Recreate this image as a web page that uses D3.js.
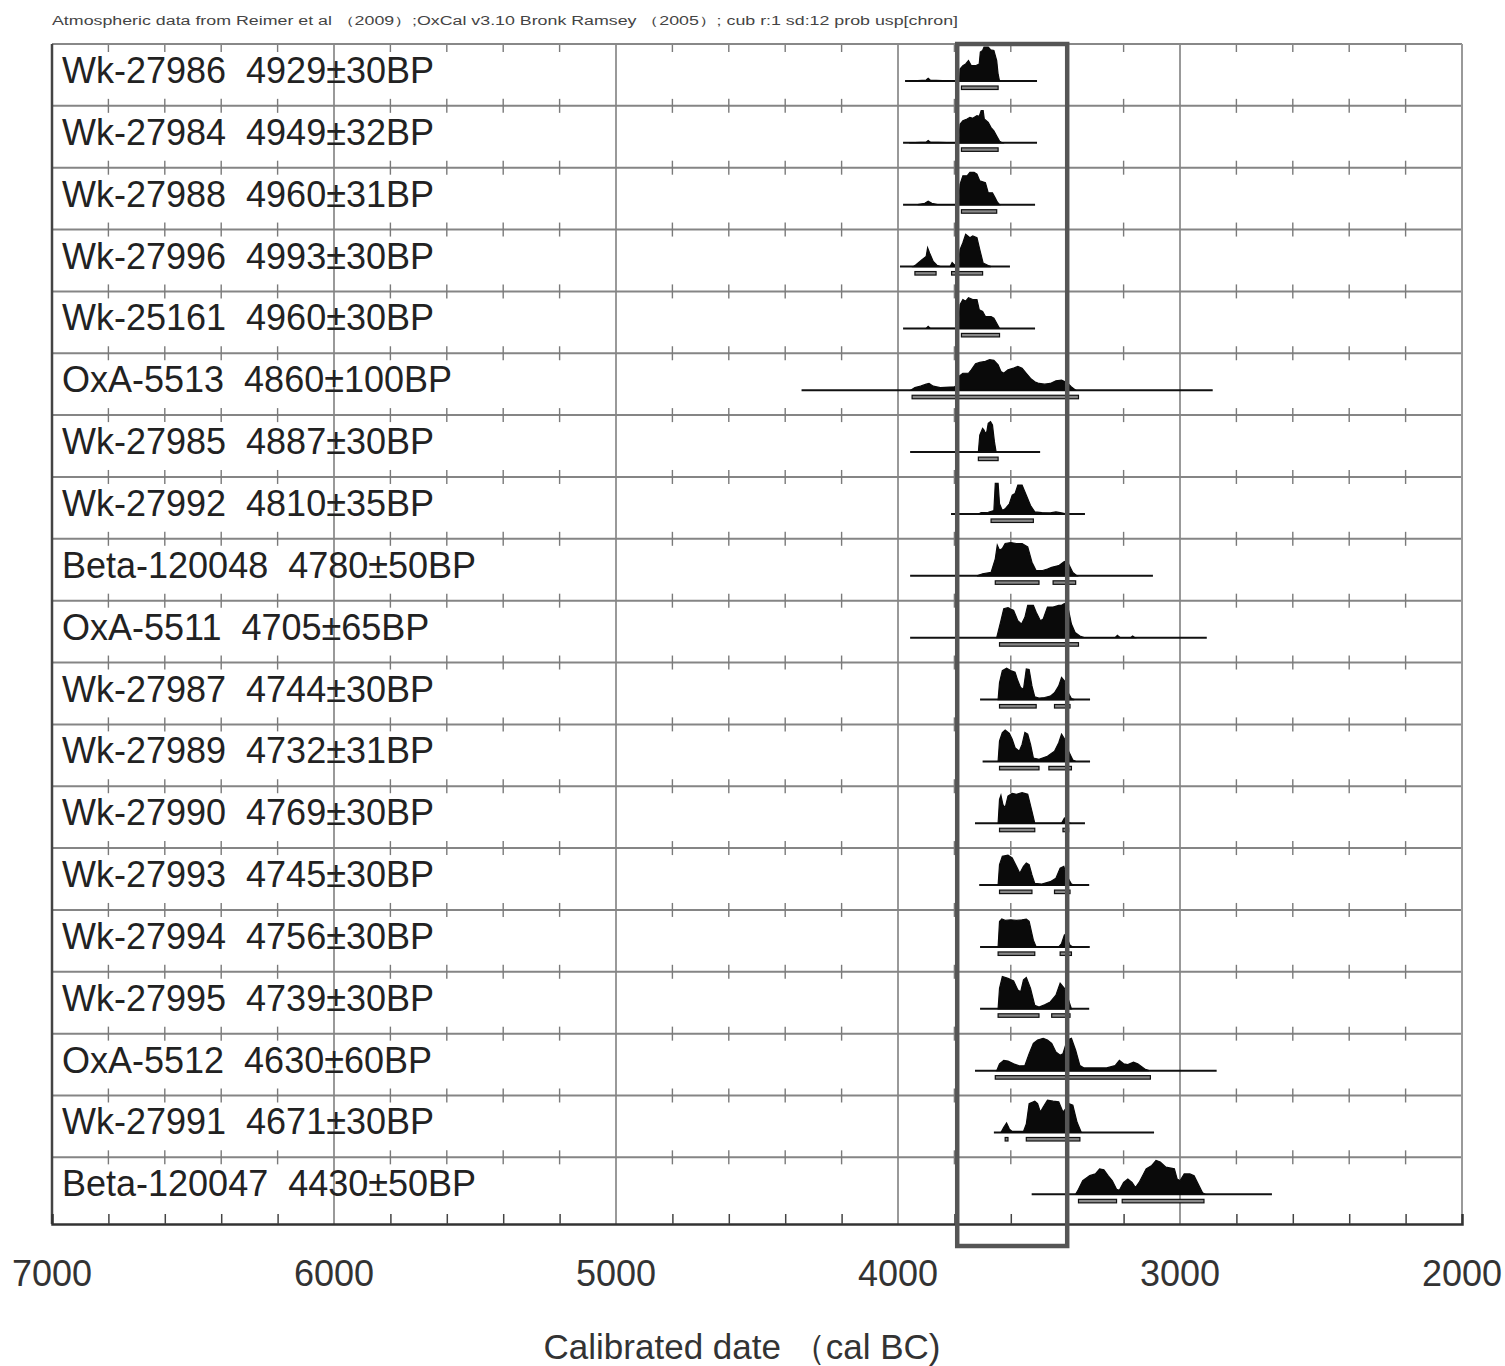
<!DOCTYPE html>
<html>
<head>
<meta charset="utf-8">
<script src="https://cdn.jsdelivr.net/npm/d3@7"></script>
<style>
body { margin: 0; background: #fff; }
svg text { font-family: Arial, "Liberation Sans", sans-serif; }
</style>
</head>
<body>
<svg id="chart" width="1505" height="1366"></svg>
<script>
var svg = d3.select("#chart");

var header = "Atmospheric data from Reimer et al （2009）;OxCal v3.10 Bronk Ramsey （2005）; cub r:1 sd:12 prob usp[chron]";
var axisTitle = "Calibrated date （cal BC)";

var labels = [
	"Wk-27986  4929±30BP", "Wk-27984  4949±32BP", "Wk-27988  4960±31BP",
	"Wk-27996  4993±30BP", "Wk-25161  4960±30BP", "OxA-5513  4860±100BP",
	"Wk-27985  4887±30BP", "Wk-27992  4810±35BP", "Beta-120048  4780±50BP",
	"OxA-5511  4705±65BP", "Wk-27987  4744±30BP", "Wk-27989  4732±31BP",
	"Wk-27990  4769±30BP", "Wk-27993  4745±30BP", "Wk-27994  4756±30BP",
	"Wk-27995  4739±30BP", "OxA-5512  4630±60BP", "Wk-27991  4671±30BP",
	"Beta-120047  4430±50BP"
];

// extent of the thin line under each distribution (cal BC)
var spans = [
	[3975, 3507], [3982, 3507], [3982, 3514], [3993, 3603], [3982, 3514],
	[4342, 2884], [3957, 3496], [3812, 3337], [3957, 3096], [3957, 2905],
	[3709, 3319], [3700, 3319], [3727, 3337], [3712, 3322], [3709, 3320],
	[3709, 3322], [3727, 2870], [3660, 3092], [3526, 2674]
];

// probability outline, [year BC, relative height]
var dens = [
	[[3960,0],[3900,0.03],[3893,0.08],[3886,0.03],[3800,0],[3782,0],[3780,0.35],[3770,0.45],[3760,0.5],[3750,0.6],[3740,0.45],[3725,0.45],[3712,0.5],[3708,0.85],[3700,0.9],[3695,1.0],[3680,1.0],[3672,0.92],[3660,0.9],[3650,0.6],[3645,0.2],[3640,0]],
	[[3960,0],[3900,0.02],[3893,0.07],[3885,0.02],[3800,0],[3785,0],[3780,0.55],[3770,0.65],[3755,0.7],[3745,0.75],[3735,0.72],[3720,0.8],[3712,0.78],[3705,0.95],[3698,0.95],[3694,0.7],[3680,0.6],[3670,0.45],[3660,0.35],[3650,0.2],[3640,0.05],[3630,0]],
	[[3930,0],[3905,0.04],[3893,0.1],[3880,0.04],[3860,0],[3785,0],[3780,0.6],[3770,0.85],[3755,0.85],[3745,0.95],[3730,0.95],[3720,0.9],[3710,0.7],[3690,0.65],[3680,0.35],[3665,0.35],[3655,0.2],[3648,0.08],[3640,0]],
	[[3945,0],[3935,0.06],[3915,0.2],[3900,0.3],[3895,0.55],[3888,0.4],[3875,0.15],[3862,0.04],[3850,0],[3815,0],[3808,0.12],[3800,0.05],[3785,0.05],[3780,0.5],[3770,0.7],[3760,0.95],[3745,0.85],[3735,0.9],[3720,0.85],[3710,0.5],[3698,0.1],[3680,0.03],[3670,0]],
	[[3900,0],[3893,0.06],[3885,0],[3785,0],[3780,0.7],[3770,0.85],[3760,0.8],[3750,0.9],[3735,0.85],[3720,0.85],[3712,0.55],[3700,0.5],[3690,0.35],[3670,0.35],[3660,0.3],[3650,0.15],[3640,0]],
	[[3955,0],[3940,0.08],[3920,0.12],[3900,0.18],[3890,0.2],[3875,0.12],[3850,0.08],[3800,0.1],[3792,0.15],[3785,0.4],[3770,0.5],[3750,0.5],[3740,0.6],[3725,0.78],[3710,0.82],[3690,0.85],[3675,0.9],[3660,0.88],[3645,0.75],[3635,0.55],[3625,0.5],[3610,0.6],[3590,0.65],[3575,0.7],[3560,0.65],[3545,0.5],[3530,0.35],[3515,0.25],[3500,0.2],[3480,0.18],[3460,0.2],[3440,0.28],[3420,0.3],[3400,0.22],[3385,0.1],[3370,0]],
	[[3715,0],[3710,0.5],[3700,0.7],[3695,0.65],[3690,0.55],[3685,0.6],[3680,0.85],[3672,0.9],[3665,0.8],[3658,0.3],[3652,0]],
	[[3715,0],[3705,0.04],[3680,0.05],[3660,0.1],[3655,0.9],[3645,0.9],[3640,0.3],[3630,0.1],[3620,0.15],[3605,0.3],[3595,0.55],[3585,0.6],[3575,0.85],[3560,0.85],[3545,0.55],[3530,0.25],[3515,0.06],[3490,0.04],[3460,0.03],[3440,0.06],[3420,0.03],[3400,0]],
	[[3720,0],[3700,0.06],[3670,0.1],[3655,0.5],[3648,0.9],[3640,0.75],[3630,0.8],[3620,0.95],[3600,0.98],[3580,0.95],[3560,0.95],[3540,0.85],[3525,0.4],[3510,0.15],[3490,0.15],[3470,0.2],[3455,0.25],[3430,0.3],[3410,0.42],[3395,0.35],[3380,0.1],[3365,0]],
	[[3650,0],[3635,0.5],[3625,0.85],[3610,0.88],[3590,0.8],[3575,0.5],[3562,0.4],[3550,0.6],[3540,0.95],[3520,0.95],[3510,0.75],[3495,0.5],[3485,0.55],[3470,0.9],[3450,0.9],[3430,0.95],[3420,0.95],[3410,1.0],[3395,0.8],[3385,0.4],[3372,0.15],[3355,0.05],[3340,0],[3230,0],[3222,0.07],[3212,0],[3175,0],[3168,0.05],[3160,0]],
	[[3645,0],[3640,0.5],[3630,0.85],[3615,0.92],[3600,0.85],[3585,0.8],[3575,0.55],[3565,0.35],[3555,0.3],[3545,0.9],[3535,0.88],[3525,0.4],[3515,0.08],[3500,0.04],[3480,0.06],[3460,0.1],[3445,0.2],[3430,0.4],[3420,0.65],[3410,0.55],[3400,0.25],[3385,0.03],[3375,0]],
	[[3645,0],[3640,0.6],[3630,0.85],[3620,0.92],[3605,0.82],[3595,0.65],[3585,0.4],[3570,0.3],[3560,0.5],[3550,0.85],[3540,0.8],[3530,0.5],[3520,0.1],[3500,0.06],[3470,0.15],[3445,0.3],[3430,0.55],[3420,0.8],[3405,0.6],[3395,0.3],[3380,0.04],[3370,0]],
	[[3645,0],[3640,0.7],[3635,0.82],[3628,0.55],[3620,0.45],[3610,0.8],[3595,0.88],[3580,0.85],[3560,0.9],[3540,0.85],[3525,0.35],[3515,0],[3420,0],[3410,0.15],[3400,0.05],[3390,0]],
	[[3645,0],[3640,0.6],[3630,0.85],[3610,0.88],[3595,0.8],[3580,0.55],[3568,0.35],[3555,0.55],[3545,0.65],[3535,0.6],[3525,0.3],[3515,0.05],[3490,0.03],[3460,0.1],[3440,0.2],[3425,0.5],[3412,0.55],[3400,0.25],[3385,0.03],[3375,0]],
	[[3645,0],[3640,0.75],[3632,0.82],[3620,0.78],[3600,0.8],[3580,0.78],[3560,0.8],[3545,0.82],[3535,0.75],[3520,0.2],[3510,0],[3430,0],[3420,0.1],[3410,0.35],[3400,0.25],[3390,0.05],[3380,0]],
	[[3645,0],[3640,0.6],[3630,0.95],[3610,0.9],[3590,0.82],[3575,0.55],[3565,0.5],[3555,0.85],[3545,0.92],[3530,0.6],[3515,0.1],[3500,0.05],[3480,0.12],[3460,0.2],[3440,0.4],[3425,0.75],[3410,0.6],[3395,0.25],[3385,0]],
	[[3650,0],[3640,0.2],[3625,0.3],[3610,0.28],[3590,0.2],[3570,0.14],[3550,0.15],[3535,0.5],[3520,0.8],[3505,0.9],[3485,0.95],[3470,0.9],[3455,0.8],[3440,0.55],[3425,0.45],[3415,0.5],[3400,0.9],[3385,0.95],[3370,0.6],[3355,0.15],[3340,0.08],[3300,0.08],[3260,0.08],[3230,0.15],[3215,0.3],[3200,0.2],[3185,0.18],[3165,0.25],[3150,0.2],[3125,0.05],[3110,0]],
	[[3635,0],[3625,0.15],[3615,0.28],[3605,0.1],[3595,0.03],[3555,0.03],[3545,0.25],[3535,0.85],[3515,0.92],[3505,0.85],[3495,0.6],[3485,0.75],[3470,0.95],[3450,0.92],[3430,0.9],[3415,0.6],[3405,0.7],[3395,0.85],[3380,0.8],[3365,0.3],[3350,0]],
	[[3370,0],[3360,0.15],[3345,0.4],[3320,0.55],[3300,0.6],[3285,0.75],[3270,0.72],[3255,0.55],[3240,0.4],[3225,0.15],[3215,0.12],[3200,0.35],[3185,0.45],[3170,0.35],[3158,0.2],[3145,0.35],[3120,0.75],[3100,0.85],[3085,1.0],[3070,0.95],[3050,0.8],[3020,0.75],[3010,0.45],[3000,0.4],[2985,0.6],[2965,0.6],[2950,0.55],[2935,0.3],[2920,0.05],[2910,0]]
];

// range brackets drawn under each distribution
var ranges = [
	[[3775,3645]], [[3775,3645]], [[3775,3650]], [[3940,3865],[3810,3700]], [[3775,3640]],
	[[3950,3360]], [[3715,3645]], [[3670,3520]], [[3655,3500],[3450,3370]], [[3640,3360]],
	[[3640,3510],[3445,3390]], [[3640,3500],[3465,3385]], [[3640,3515],[3415,3395]],
	[[3640,3525],[3445,3390]], [[3645,3515],[3425,3385]], [[3645,3500],[3455,3390]],
	[[3655,3105]], [[3620,3610],[3545,3355]], [[3360,3225],[3205,2915]]
];

var tickYears = [7000, 6000, 5000, 4000, 3000, 2000];
var highlight = [3790, 3400];

var plotL = 52, plotR = 1462, plotT = 44, plotB = 1224;
var x = d3.scaleLinear().domain([7000, 2000]).range([plotL, plotR]);
var row = d3.scaleBand().domain(d3.range(labels.length)).range([plotT, 1219.2]);
var hmax = 34;

var minor = x.ticks(25).filter(function(d){ return d % 1000 != 0; });

// vertical grid at 1000 years
svg.append("g").selectAll("line")
	.data(tickYears.slice(1, -1)).enter().append("line")
	.attr("x1", x).attr("x2", x)
	.attr("y1", plotT).attr("y2", plotB)
	.attr("stroke", "#999").attr("stroke-width", 2);

// row separators with small ticks
var seps = d3.range(1, labels.length).map(function(i){ return row(i); });
svg.append("g").selectAll("line")
	.data(seps).enter().append("line")
	.attr("x1", plotL).attr("x2", plotR)
	.attr("y1", function(d){ return d; }).attr("y2", function(d){ return d; })
	.attr("stroke", "#858585").attr("stroke-width", 2);

var tg = svg.append("g").attr("stroke", "#7a7a7a").attr("stroke-width", 1.4);
seps.forEach(function(yy){
	tg.append("g").selectAll("line").data(minor).enter().append("line")
		.attr("x1", x).attr("x2", x)
		.attr("y1", yy - 7).attr("y2", yy + 7);
});
tg.append("g").selectAll("line").data(minor).enter().append("line")
	.attr("x1", x).attr("x2", x).attr("y1", plotT).attr("y2", plotT + 8);

// frame
svg.append("line").attr("x1", plotL).attr("x2", plotR).attr("y1", plotT).attr("y2", plotT)
	.attr("stroke", "#888").attr("stroke-width", 2);
svg.append("line").attr("x1", plotR).attr("x2", plotR).attr("y1", plotT).attr("y2", plotB)
	.attr("stroke", "#999").attr("stroke-width", 2);
svg.append("line").attr("x1", plotL).attr("x2", plotL).attr("y1", plotT).attr("y2", plotB)
	.attr("stroke", "#444").attr("stroke-width", 2.5);

// bottom axis
var axis = svg.append("g").attr("transform", "translate(0," + plotB + ")")
	.call(d3.axisBottom(x).tickValues(minor).tickSize(-10).tickFormat(""));
axis.select(".domain").attr("stroke", "#333").attr("stroke-width", 2.5);
axis.selectAll(".tick line").attr("stroke", "#444").attr("stroke-width", 1.5);

svg.append("g").selectAll("text")
	.data(tickYears).enter().append("text")
	.attr("x", x).attr("y", 1286)
	.attr("text-anchor", "middle")
	.attr("font-size", 36).attr("fill", "#333")
	.text(function(d){ return d; });

svg.append("text").attr("x", 742).attr("y", 1359)
	.attr("text-anchor", "middle").attr("font-size", 35).attr("fill", "#333")
	.text(axisTitle);

svg.append("text").attr("x", plotL).attr("y", 25)
	.attr("font-size", 12).attr("fill", "#444")
	.attr("textLength", 906).attr("lengthAdjust", "spacingAndGlyphs")
	.text(header);

// sample labels
svg.append("g").selectAll("text")
	.data(labels).enter().append("text")
	.attr("x", 62).attr("y", function(d, i){ return row(i) + 39; })
	.attr("font-size", 36).attr("fill", "#222")
	.style("white-space", "pre")
	.text(function(d){ return d; });

// distributions
var area = d3.area()
	.x(function(d){ return x(d[0]); })
	.y0(0)
	.y1(function(d){ return -d[1] * hmax; });

var rows = svg.append("g").selectAll("g")
	.data(labels).enter().append("g")
	.attr("transform", function(d, i){ return "translate(0," + (row(i) + 37) + ")"; });

rows.append("line")
	.attr("x1", function(d, i){ return x(spans[i][0]); })
	.attr("x2", function(d, i){ return x(spans[i][1]); })
	.attr("stroke", "#111").attr("stroke-width", 2);

rows.append("path")
	.attr("d", function(d, i){ return area(dens[i]); })
	.attr("fill", "#0a0a0a").attr("stroke", "#0a0a0a").attr("stroke-width", 1.2);

rows.each(function(d, i){
	d3.select(this).selectAll("rect").data(ranges[i]).enter().append("rect")
		.attr("x", function(r){ return x(r[0]); })
		.attr("width", function(r){ return x(r[1]) - x(r[0]); })
		.attr("y", 5).attr("height", 3.5)
		.attr("fill", "#888").attr("stroke", "#111").attr("stroke-width", 1.2);
});

// highlighted interval
svg.append("rect")
	.attr("x", x(highlight[0])).attr("width", x(highlight[1]) - x(highlight[0]))
	.attr("y", plotT).attr("height", 1246 - plotT)
	.attr("fill", "none").attr("stroke", "#555").attr("stroke-width", 4.5);
</script>
</body>
</html>
